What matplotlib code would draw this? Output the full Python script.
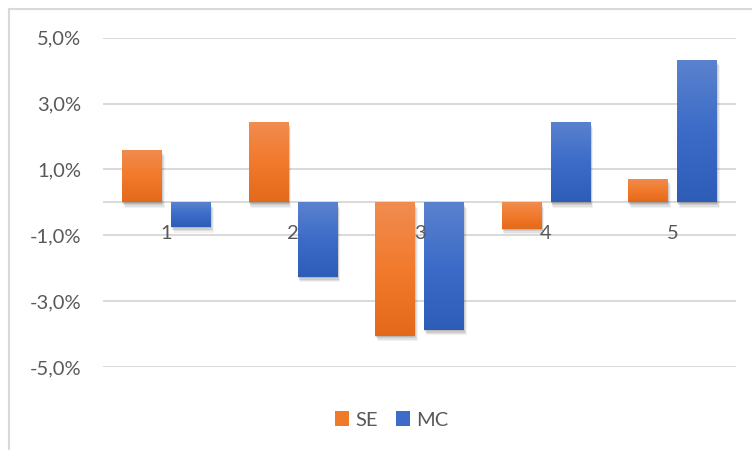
import numpy as np
import matplotlib
matplotlib.use("Agg")
import matplotlib.pyplot as plt
import matplotlib.patheffects as pe
from matplotlib.lines import Line2D
from matplotlib.patches import Patch
from matplotlib.colors import LinearSegmentedColormap

categories = ["1", "2", "3", "4", "5"]
se_values = [0.0159, 0.0244, -0.0405, -0.0080, 0.0071]
mc_values = [-0.0075, -0.0226, -0.0387, 0.0244, 0.0433]
series_names = ["SE", "MC"]
ytick_values = [-0.05, -0.03, -0.01, 0.01, 0.03, 0.05]
ytick_labels = ["-5,0%", "-3,0%", "-1,0%", "1,0%", "3,0%", "5,0%"]

plt.rcParams['font.family'] = ['Lato', 'DejaVu Sans']

W, H = 752, 450
fig = plt.figure(figsize=(W / 100, H / 100), dpi=100)
fig.patch.set_facecolor('white')

left, right = 103.25 / W, 735.75 / W
top, bottom = 1 - 37.7 / H, 1 - 367 / H
ax = fig.add_axes([left, bottom, right - left, top - bottom])
ax.set_xlim(-0.5, len(categories) - 0.5)
ax.set_ylim(-0.05, 0.05)
for s in ax.spines.values():
    s.set_visible(False)

grid_c = '#D9D9D9'
for yv in ytick_values:
    ax.axhline(yv, color=grid_c, lw=1.4, zorder=0)
ax.axhline(0, color=grid_c, lw=1.4, zorder=0)

fs = 14.5
ax.set_yticks(ytick_values)
ax.set_yticklabels(ytick_labels)
ax.tick_params(axis='y', length=0, pad=16, labelsize=fs, labelcolor='#595959')
ax.set_xticks([])

bw = 40 / 126.5
gap = 9 / 126.5
x = np.arange(len(categories))

orange = LinearSegmentedColormap.from_list('o', ['#E4691A', '#F27A2C', '#F08C50'])
blue = LinearSegmentedColormap.from_list('b', ['#2E5DB8', '#3C6CC8', '#5B82CE'])

shadow = [pe.SimplePatchShadow(offset=(0.3, -1.0), shadow_rgbFace='black', alpha=0.10),
          pe.SimplePatchShadow(offset=(0.8, -2.0), shadow_rgbFace='black', alpha=0.09),
          pe.SimplePatchShadow(offset=(1.3, -3.0), shadow_rgbFace='black', alpha=0.07),
          pe.SimplePatchShadow(offset=(1.8, -4.0), shadow_rgbFace='black', alpha=0.05),
          pe.Normal()]

grad = np.linspace(0, 1, 256).reshape(-1, 1)

def draw_series(xs, vals, cmap, mid):
    bars = ax.bar(xs, vals, width=bw, color=mid, zorder=2)
    for b in bars:
        b.set_path_effects(shadow)
        x0 = b.get_x(); w = b.get_width()
        y0 = min(b.get_y(), b.get_y() + b.get_height())
        y1 = max(b.get_y(), b.get_y() + b.get_height())
        im = ax.imshow(grad, cmap=cmap, origin='lower', aspect='auto',
                       extent=[x0, x0 + w, y0, y1], zorder=3, interpolation='bilinear')
        im.set_clip_path(b)
    return bars

draw_series(x - (bw + gap) / 2, se_values, orange, '#F07A2A')
draw_series(x + (bw + gap) / 2, mc_values, blue, '#3C6CC8')
ax.set_xlim(-0.5, len(categories) - 0.5)
ax.set_ylim(-0.05, 0.05)

for xi, c in zip(x, categories):
    ax.annotate(c, xy=(xi, 0), xytext=(0, -22.5), textcoords='offset points',
                ha='center', va='center', fontsize=fs, color='#595959', zorder=5)

handles = [Patch(facecolor='#F07A2A', edgecolor='none'),
           Patch(facecolor='#3C6CC8', edgecolor='none')]
fig.legend(handles, series_names, loc='center', bbox_to_anchor=(391.5 / W, 1 - 420 / H),
           ncol=2, frameon=False, fontsize=fs, labelcolor='#595959',
           handlelength=0.7, handleheight=0.7, handletextpad=0.3, columnspacing=0.9)

# chart border (top and left visible)
fig.add_artist(Line2D([9 / W, 9 / W], [0, 1 - 8.5 / H], transform=fig.transFigure,
                      color=grid_c, lw=1.5))
fig.add_artist(Line2D([9 / W, 1], [1 - 8.5 / H, 1 - 8.5 / H], transform=fig.transFigure,
                      color=grid_c, lw=1.5))

fig.savefig('out.png', dpi=100)
